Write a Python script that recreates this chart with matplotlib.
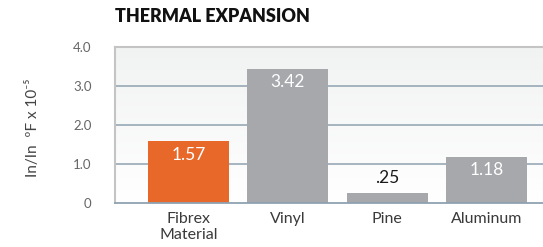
import matplotlib
matplotlib.use("Agg")
import matplotlib.pyplot as plt
import numpy as np
from matplotlib.colors import LinearSegmentedColormap

categories = ["Fibrex\nMaterial", "Vinyl", "Pine", "Aluminum"]
values = [1.57, 3.42, 0.25, 1.18]
value_labels = ["1.57", "3.42", ".25", "1.18"]
colors = ["#E8682A", "#A7A8AC", "#A7A8AC", "#A7A8AC"]
yticks = [0, 1, 2, 3, 4]
ytick_labels = ["0", "1.0", "2.0", "3.0", "4.0"]

plt.rcParams['font.family'] = ['Lato', 'DejaVu Sans']

fig = plt.figure(figsize=(5.43, 2.47), dpi=100)
ax = fig.add_axes([0.2118, 0.1794, 0.7882, 0.6316])

x = np.arange(len(categories))
ax.set_xlim(-0.74, 3.57)
ax.set_ylim(0, 4.0)

# gradient background
grad = np.linspace(0, 1, 256).reshape(-1, 1)
cmap = LinearSegmentedColormap.from_list("bg", ["#FFFFFF", "#F1F2F2"])
ax.imshow(grad, cmap=cmap, aspect='auto', extent=[0, 1, 0, 1],
          transform=ax.transAxes, origin='lower', zorder=0)

for g in [1, 2, 3]:
    ax.axhline(g, color="#8FA1B1", lw=1.1, zorder=1)

bars = ax.bar(x, values, width=0.815, color=colors, zorder=2)

for xi, v, lab in zip(x, values, value_labels):
    if v > 0.6:
        ax.text(xi, v - 0.13, lab, ha='center', va='top', color='white',
                fontsize=12.5, zorder=3)
    else:
        ax.text(xi, v + 0.17, lab, ha='center', va='bottom', color='#1a1a1a',
                fontsize=12.5, zorder=3)

ax.set_xticks(x)
ax.set_xticklabels(categories, fontsize=11.5, color='#3a3a3a', linespacing=1.15)
ax.set_yticks(yticks)
ax.set_yticklabels(ytick_labels, fontsize=9.5, color='#666666')
ax.tick_params(axis='both', length=0)
ax.tick_params(axis='y', pad=17)
ax.tick_params(axis='x', pad=7)

ax.spines['right'].set_visible(False)
ax.spines['left'].set_color('#C4C4C4')
ax.spines['left'].set_linewidth(1.5)
ax.spines['top'].set_color('#C4C4C4')
ax.spines['top'].set_linewidth(1.5)
ax.spines['bottom'].set_color('#8FA1B1')
ax.spines['bottom'].set_linewidth(1.3)

fig.text(33/543, 1 - 128/247, "In/In  ºF x 10\u207b\u2075", rotation=90, ha='center', va='center',
         fontsize=11, color='#444444')

fig.text(115/543, 1 - 16/247, "THERMAL EXPANSION", ha='left', va='center',
         fontsize=13, fontweight='heavy', color='#111111')

fig.savefig("out.png", dpi=100)
